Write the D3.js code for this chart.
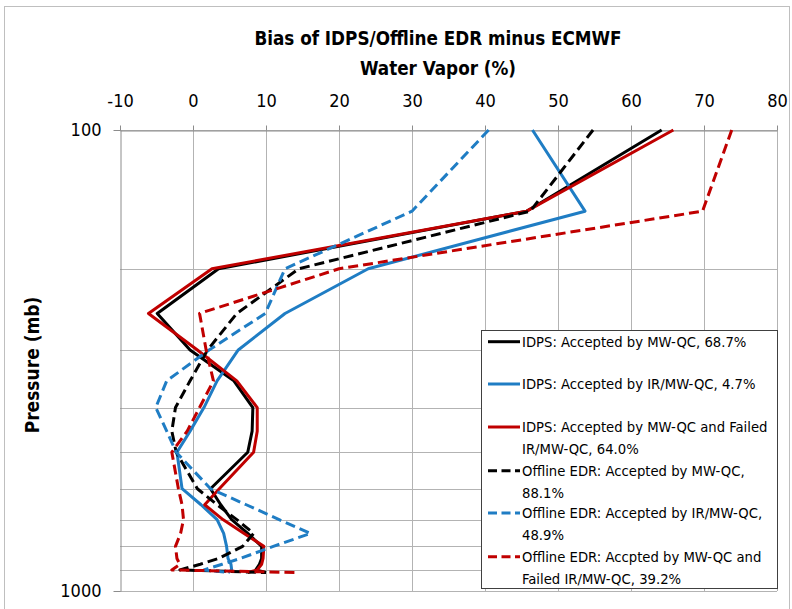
<!DOCTYPE html>
<html>
<head>
<meta charset="utf-8">
<script src="https://cdn.jsdelivr.net/npm/d3@7"></script>
<style>
  body { margin: 0; background: #fff; }
  text { font-family: "DejaVu Sans Condensed", "Liberation Sans", sans-serif; }
</style>
</head>
<body>
<svg id="chart" width="792" height="609"></svg>
<script>
// pressure levels (mb)
var levels = [100, 150, 200, 250, 300, 350, 400, 450, 500, 600, 650, 700, 750, 800, 850, 875, 900, 912];

// bias (%) at each level
var idpsMW      = [64.2, 45.7, 3.5, -4.9, -0.4, 5.6, 8.2, 8.1, 7.5, 2.4, 3.8, 5.3, 7.5, 9.4, 9.4, 9.1, 8.6, 10.0];
var idpsIRMW    = [46.5, 53.7, 24.0, 12.6, 6.2, 3.3, 1.5, -0.4, -2.2, -1.5, 1.1, 3.3, 4.2, 4.6, 4.8, 5.2, 5.3, 4.8];
var idpsMWfail  = [65.8, 45.7, 2.6, -6.1, 0.6, 6.0, 8.8, 8.8, 8.3, 3.6, 1.6, 4.1, 7.0, 9.7, 9.6, 9.4, 8.8, 7.5];
var offMW       = [54.8, 46.2, 14.5, 6.0, 2.0, -0.4, -2.4, -2.9, -2.3, 0.6, 3.3, 6.0, 8.3, 6.8, 3.5, 1.0, -1.8, 10.0];
var offIRMW     = [40.5, 30.0, 12.6, 9.9, 2.2, -3.6, -5.1, -3.6, -2.3, 2.4, 7.3, 11.8, 16.1, 11.0, 6.5, 4.0, 1.5, 5.0];
var offMWfail   = [73.8, 69.8, 20.0, 0.9, 1.8, 2.8, 0.9, -0.8, -2.9, -2.0, -1.5, -1.3, -1.7, -2.4, -2.2, -1.8, -2.9, 14.5];

var seriesNames = [
  ["IDPS: Accepted by MW-QC, 68.7%"],
  ["IDPS: Accepted by IR/MW-QC, 4.7%"],
  ["IDPS: Accepted by MW-QC and Failed", "IR/MW-QC, 64.0%"],
  ["Offline EDR: Accepted by MW-QC,", "88.1%"],
  ["Offline EDR: Accepted by IR/MW-QC,", "48.9%"],
  ["Offline EDR: Accpted by MW-QC and", "Failed IR/MW-QC, 39.2%"]
];
var xTicks = [-10, 0, 10, 20, 30, 40, 50, 60, 70, 80];
var yGrid = [100, 200, 300, 400, 500, 600, 700, 800, 900, 1000];
var yLabels = [100, 1000];

var colors = ["#000000", "#1f7dc4", "#c00000", "#000000", "#1f7dc4", "#c00000"];
var dashed = [false, false, false, true, true, true];
var allSeries = [idpsMW, idpsIRMW, idpsMWfail, offMW, offIRMW, offMWfail];

var svg = d3.select("#chart");

// outer frame
svg.append("rect")
    .attr("x", 4.5).attr("y", 6.5)
    .attr("width", 785).attr("height", 640)
    .attr("fill", "none").attr("stroke", "#bfbfbf");

var x = d3.scaleLinear().domain([-10, 80]).range([120, 777]);
var y = d3.scaleLog().domain([100, 1000]).range([130, 591]);

// gridlines
svg.append("g").selectAll("line")
    .data(xTicks.slice(1))
    .enter().append("line")
      .attr("x1", function(d) { return x(d) + 0.5; })
      .attr("x2", function(d) { return x(d) + 0.5; })
      .attr("y1", y(100)).attr("y2", y(1000))
      .attr("stroke", "#b3b3b3");

svg.append("g").selectAll("line")
    .data(yGrid)
    .enter().append("line")
      .attr("x1", x(-10)).attr("x2", x(80))
      .attr("y1", function(d) { return Math.round(y(d)) + 0.5; })
      .attr("y2", function(d) { return Math.round(y(d)) + 0.5; })
      .attr("stroke", "#b3b3b3");

// top x axis
var xAxis = svg.append("g")
    .attr("transform", "translate(0," + (y(100) + 0.5) + ")")
    .call(d3.axisTop(x).tickValues(xTicks).tickFormat(function(d) { return String(d); })
      .tickSize(5).tickSizeOuter(0));
xAxis.select(".domain").attr("stroke", "#8c8c8c");
xAxis.selectAll(".tick line").attr("stroke", "#8c8c8c");
xAxis.selectAll("text").attr("font-size", 18).attr("fill", "#000")
    .attr("y", -24).attr("dy", 0);

// left y axis
var yAxis = svg.append("g")
    .attr("transform", "translate(" + (x(-10) + 0.5) + ",0)")
    .call(d3.axisLeft(y).tickValues(yLabels).tickFormat(d3.format("d")).tickSize(7).tickSizeOuter(0));
yAxis.select(".domain").attr("stroke", "#8c8c8c");
yAxis.selectAll(".tick line").attr("stroke", "#8c8c8c");
yAxis.selectAll("text").attr("font-size", 18).attr("fill", "#000").attr("dx", "-0.5em");

// series lines
var line = d3.line()
    .x(function(d) { return x(d[1]); })
    .y(function(d) { return y(d[0]); });

allSeries.forEach(function(vals, i) {
  svg.append("path")
      .datum(levels.map(function(p, j) { return [p, vals[j]]; }))
      .attr("d", line)
      .attr("fill", "none")
      .attr("stroke", colors[i])
      .attr("stroke-width", 3)
      .attr("stroke-linejoin", "round")
      .attr("stroke-dasharray", dashed[i] ? "10,5" : null);
});

// titles
svg.append("text")
    .attr("x", 438).attr("y", 45)
    .attr("text-anchor", "middle")
    .attr("font-size", 18.7).attr("font-weight", "bold")
    .text("Bias of IDPS/Offline EDR minus ECMWF");
svg.append("text")
    .attr("x", 438).attr("y", 75)
    .attr("text-anchor", "middle")
    .attr("font-size", 18.7).attr("font-weight", "bold")
    .text("Water Vapor (%)");
svg.append("text")
    .attr("transform", "translate(39,365) rotate(-90)")
    .attr("text-anchor", "middle")
    .attr("font-size", 19).attr("font-weight", "bold")
    .text("Pressure (mb)");

// legend
var legend = svg.append("g");
legend.append("rect")
    .attr("x", 481.5).attr("y", 330.5)
    .attr("width", 296).attr("height", 258)
    .attr("fill", "#fff").attr("stroke", "#404040");

var rowY = [341.7, 384, 427, 470.7, 513, 556.7];
seriesNames.forEach(function(lines, i) {
  legend.append("line")
      .attr("x1", 488).attr("x2", 520)
      .attr("y1", rowY[i]).attr("y2", rowY[i])
      .attr("stroke", colors[i])
      .attr("stroke-width", 3)
      .attr("stroke-dasharray", dashed[i] ? "9,4.5" : null);
  lines.forEach(function(t, k) {
    legend.append("text")
        .attr("x", 522).attr("y", rowY[i] + k * 21.7)
        .attr("dy", "0.35em")
        .attr("font-size", 14.7)
        .text(t);
  });
});
</script>
</body>
</html>
